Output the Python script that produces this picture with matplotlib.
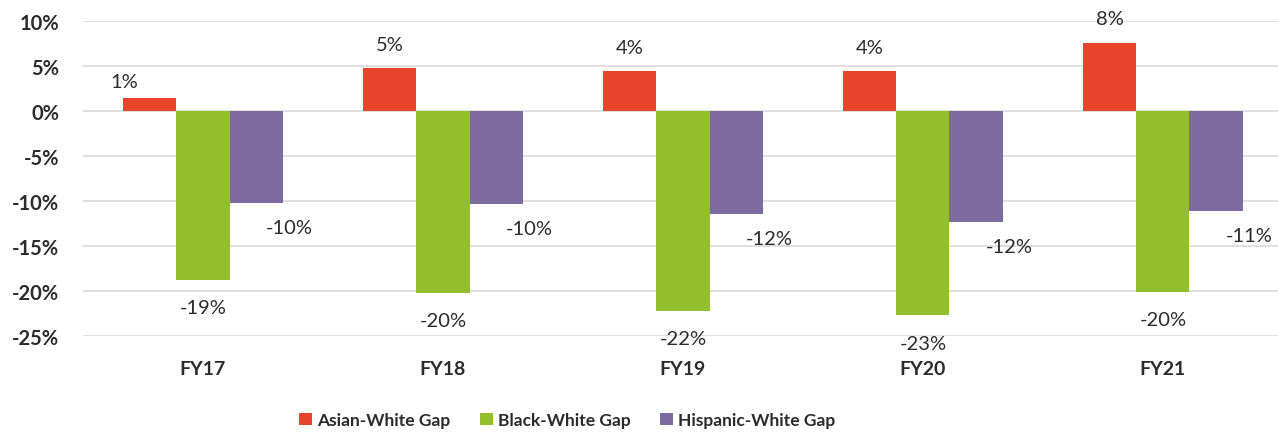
import matplotlib
matplotlib.use("Agg")
import matplotlib.pyplot as plt
import numpy as np

categories = ["FY17", "FY18", "FY19", "FY20", "FY21"]
asian_white = [1.4, 4.8, 4.4, 4.4, 7.6]
black_white = [-18.8, -20.2, -22.2, -22.7, -20.1]
hispanic_white = [-10.2, -10.3, -11.4, -12.3, -11.1]
asian_labels = ["1%", "5%", "4%", "4%", "8%"]
black_labels = ["-19%", "-20%", "-22%", "-23%", "-20%"]
hispanic_labels = ["-10%", "-10%", "-12%", "-12%", "-11%"]
series_names = ["Asian-White Gap", "Black-White Gap", "Hispanic-White Gap"]
yticks = [10, 5, 0, -5, -10, -15, -20, -25]

plt.rcParams['font.family'] = ['Lato', 'DejaVu Sans']

W, H = 1278, 435
fig = plt.figure(figsize=(W / 100, H / 100), dpi=100)
ax = fig.add_axes([83 / W, 1 - 337 / H, (1278 - 83) / W, (337 - 22) / H])

red = "#E8442C"
green = "#93BE2E"
purple = "#7D6BA0"
txt = "#2B2B2B"

x = np.arange(len(categories))
w = 0.222
b1 = ax.bar(x - w, asian_white, w, color=red, zorder=3, label=series_names[0])
b2 = ax.bar(x, black_white, w, color=green, zorder=3, label=series_names[1])
b3 = ax.bar(x + w, hispanic_white, w, color=purple, zorder=3, label=series_names[2])

ax.set_ylim(-25, 10)
ax.set_xlim(-0.5, 4.48)
ax.set_yticks(yticks)
ax.set_yticklabels([f"{v}%" for v in yticks])
ax.set_xticks(x)
ax.set_xticklabels(categories)
ax.grid(axis='y', color="#D9D9D9", linewidth=1.2, zorder=0)
ax.set_axisbelow(True)
for s in ax.spines.values():
    s.set_visible(False)
ax.tick_params(axis='both', length=0, labelcolor=txt)
ax.tick_params(axis='y', pad=17, labelsize=14.5)
ax.tick_params(axis='x', pad=17, labelsize=14)
for lab in ax.get_yticklabels() + ax.get_xticklabels():
    lab.set_fontweight('bold')

# data labels
asian_off = [(-18, 12), (0, 17), (0, 17), (0, 17), (0, 17)]
for i, (v, l) in enumerate(zip(asian_white, asian_labels)):
    ax.annotate(l, (x[i] - w, v), xytext=asian_off[i], textcoords='offset points',
                ha='center', va='center', fontsize=14.5, color=txt)
for i, (v, l) in enumerate(zip(black_white, black_labels)):
    ax.annotate(l, (x[i], v), xytext=(0, -20), textcoords='offset points',
                ha='center', va='center', fontsize=14.5, color=txt)
for i, (v, l) in enumerate(zip(hispanic_white, hispanic_labels)):
    ax.annotate(l, (x[i] + w, v), xytext=(24, -18), textcoords='offset points',
                ha='center', va='center', fontsize=14.5, color=txt)

leg = fig.legend(handles=[b1, b2, b3], labels=series_names, loc='center',
                 bbox_to_anchor=(567 / W, 1 - 421 / H), ncol=3, frameon=False,
                 handlelength=0.75, handleheight=0.75, handletextpad=0.3,
                 columnspacing=1.7, prop={'weight': 'bold', 'size': 12.5})
for t in leg.get_texts():
    t.set_color(txt)

fig.savefig("out.png", dpi=100, facecolor="white")
